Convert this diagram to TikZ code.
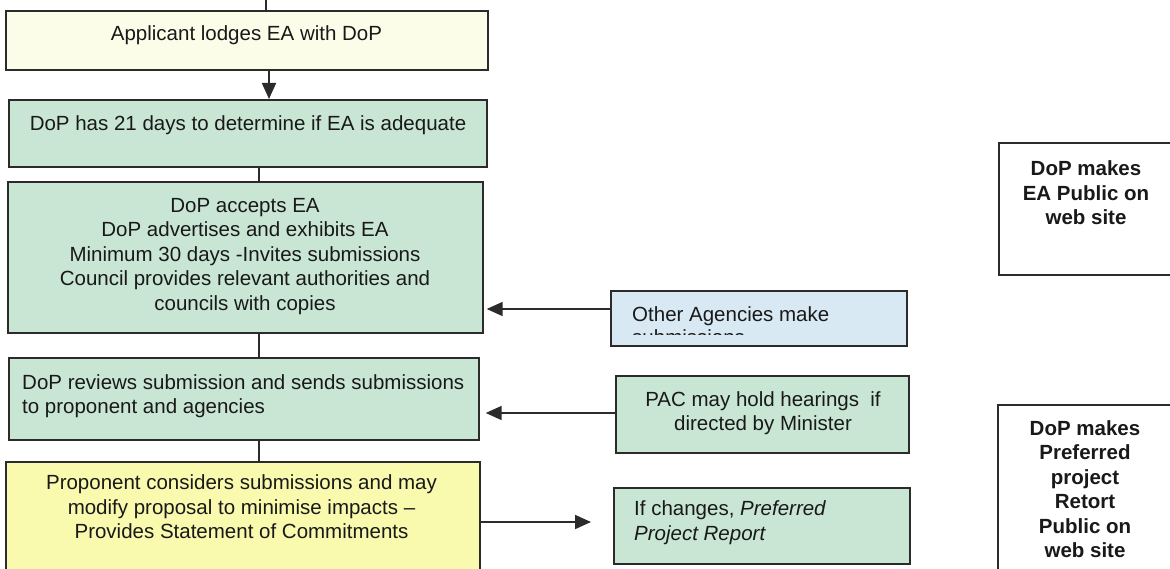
\documentclass[tikz,border=0pt]{standalone}
\usepackage{fontspec}
\setmainfont{Liberation Sans}
\usetikzlibrary{arrows.meta}
\definecolor{cream}{HTML}{FBFDE8}
\definecolor{sage}{HTML}{C9E6D4}
\definecolor{lemon}{HTML}{F9FAAE}
\definecolor{skyb}{HTML}{D9E9F4}
\definecolor{edge}{HTML}{2B2B2B}
\begin{document}
\begin{tikzpicture}[x=1pt,y=-1pt,
  box/.style={draw=edge, line width=1.7pt, rectangle, inner sep=0pt, anchor=north west},
  txt/.style={font=\fontsize{20.5}{24.5}\selectfont, inner sep=0pt, text=black!90},
  btxt/.style={txt, font=\fontsize{20.5}{24.5}\selectfont\bfseries, align=center},
  link/.style={draw=edge, line width=1.8pt},
  arr/.style={link, -{Triangle[length=16pt,width=14pt]}}]
\useasboundingbox (0,0) rectangle (1170,569);
\clip (0,0) rectangle (1170,569);
\fill[white] (0,0) rectangle (1170,569);
% left column boxes
\node[box, fill=cream, minimum width=482pt, minimum height=59pt] (app) at (5,10) {};
\node[box, fill=sage, minimum width=478pt, minimum height=67pt] (days) at (8,99) {};
\node[box, fill=sage, minimum width=475pt, minimum height=151pt] (acc) at (7,181) {};
\node[box, fill=sage, minimum width=470pt, minimum height=82pt] (rev) at (8,357) {};
\node[box, fill=lemon, minimum width=474pt, minimum height=130pt] (prop) at (5,461) {};
% middle boxes
\node[box, fill=skyb, minimum width=296pt, minimum height=55pt] (oth) at (610,290) {};
\node[box, fill=sage, minimum width=293pt, minimum height=77pt] (pac) at (615,375) {};
\node[box, fill=sage, minimum width=296pt, minimum height=76pt] (chg) at (613,487) {};
% right boxes
\node[box, fill=white, minimum width=200pt, minimum height=132pt] (web1) at (998,142) {};
\node[box, fill=white, minimum width=200pt, minimum height=200pt] (web2) at (997,404) {};
% texts
\node[txt] (app-t) at (246.5,35) {Applicant lodges EA with DoP};
\node[txt] (days-t) at (248,125.5) {DoP has 21 days to determine if EA is adequate};
\node[txt, align=center] (acc-t) at (245,256.5) {DoP accepts EA\\DoP advertises and exhibits EA\\Minimum 30 days -Invites submissions\\Council provides relevant authorities and\\councils with copies};
\node[txt, align=left, anchor=west] (rev-t) at (22,396) {DoP reviews submission and sends submissions\\to proponent and agencies};
\node[txt, align=center] (prop-t) at (241.5,507) {Proponent considers submissions and may\\modify proposal to minimise impacts --\\Provides Statement of Commitments};
\begin{scope}
  \clip (612,292) rectangle (904,334.5);
  \node[txt, align=left, anchor=north west, font=\fontsize{20.5}{23.5}\selectfont] (oth-t) at (632,306) {Other Agencies make\\submissions};
\end{scope}
\node[txt, align=center] (pac-t) at (763,413) {PAC may hold hearings\ \ if\\directed by Minister};
\node[txt, align=left, anchor=west] (chg-t) at (634,522.5) {If changes, \textit{Preferred}\\\textit{Project Report}};
\node[btxt] (web1-t) at (1086,193) {DoP makes\\EA Public on\\web site};
\node[btxt] (web2-t) at (1085,489) {DoP makes\\Preferred\\project\\Retort\\Public on\\web site};
% connectors
\coordinate (top) at (266,0);
\coordinate (c1) at (269,0);
\coordinate (c2) at (259,0);
\draw[link] (top) -- (top |- app.north);
\draw[arr] (c1 |- app.south) -- (c1 |- days.north);
\draw[link] (c2 |- days.south) -- (c2 |- acc.north);
\draw[link] (c2 |- acc.south) -- (c2 |- rev.north);
\draw[link] (c2 |- rev.south) -- (c2 |- prop.north);
\coordinate (y1) at (0,309);
\coordinate (y2) at (0,413);
\coordinate (y3) at (0,522);
\draw[arr, shorten >=3pt] (oth.west |- y1) -- (acc.east |- y1);
\draw[arr, shorten >=6pt] (pac.west |- y2) -- (rev.east |- y2);
\draw[arr, shorten >=22pt] (prop.east |- y3) -- (chg.west |- y3);
\end{tikzpicture}
\end{document}
